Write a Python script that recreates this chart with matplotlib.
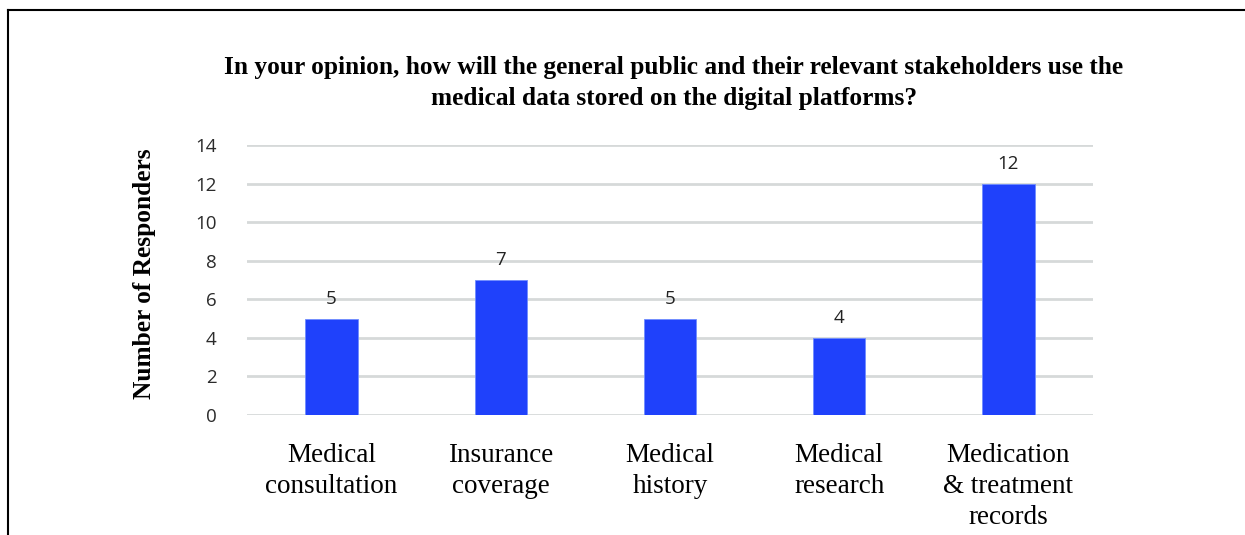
import matplotlib.pyplot as plt
from matplotlib.lines import Line2D

categories = ["Medical\nconsultation", "Insurance\ncoverage", "Medical\nhistory",
              "Medical\nresearch", "Medication\n& treatment\nrecords"]
responders = [5, 7, 5, 4, 12]
y_ticks = [0, 2, 4, 6, 8, 10, 12, 14]

W, H = 1245, 535
fig = plt.figure(figsize=(W / 100, H / 100), dpi=100)
ax = fig.add_axes([247 / W, 1 - 415 / H, 846 / W, 270 / H])

x = range(len(categories))
bars = ax.bar(x, responders, width=0.31, color='#1f41fb', edgecolor='#6f8cff',
              linewidth=0.6, zorder=3)

ax.set_xlim(-0.5, len(categories) - 0.5)
ax.set_ylim(0, 14)
ax.set_yticks(y_ticks)
ax.yaxis.grid(True, color='#d6d9d9', linewidth=2, zorder=0)
for s in ax.spines.values():
    s.set_visible(False)
ax.tick_params(axis='y', length=0, pad=22, labelsize=13.5, labelcolor='#2b2b2b')
ax.tick_params(axis='x', length=0, pad=20)
ax.set_xticks(list(x))
ax.set_xticklabels(categories, family='Liberation Serif', fontsize=19.5,
                   linespacing=1.33, va='top')
for lbl in ax.get_yticklabels():
    lbl.set_family('Open Sans')
    lbl.set_fontweight('medium')

for rect, v in zip(bars, responders):
    ax.text(rect.get_x() + rect.get_width() / 2, v + 0.55, str(v), ha='center',
            va='bottom', fontsize=13.5, family='Open Sans', fontweight='medium',
            color='#222222')

fig.text(674 / W, 1 - 83 / H,
         "In your opinion, how will the general public and their relevant stakeholders use the\n"
         "medical data stored on the digital platforms?",
         ha='center', va='center', family='Liberation Serif', fontweight='bold',
         fontsize=18.3, linespacing=1.45)

fig.text(145 / W, 1 - 274 / H, "Number of Responders", rotation=90, ha='center',
         va='center', family='Liberation Serif', fontweight='bold', fontsize=18.3)

# outer frame: top and left edges only
fig.add_artist(Line2D([8 / W, 1], [1 - 10 / H, 1 - 10 / H], color='black', linewidth=1.5))
fig.add_artist(Line2D([8 / W, 8 / W], [0, 1 - 10 / H], color='black', linewidth=1.5))

fig.savefig('out.png', dpi=100)
